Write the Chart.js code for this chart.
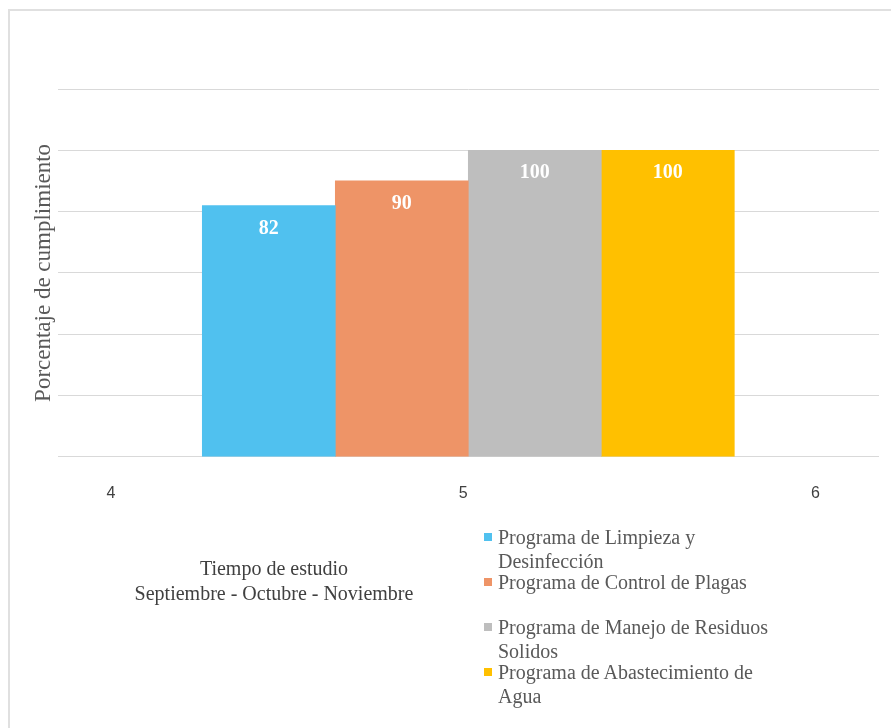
<!DOCTYPE html>
<html lang="es">
<head>
<meta charset="utf-8">
<title>Porcentaje de cumplimiento</title>
<script src="https://cdn.jsdelivr.net/npm/chart.js@4/dist/chart.umd.min.js"></script>
<style>
  html, body { margin: 0; padding: 0; background: #fff; }
  #wrap { position: relative; width: 891px; height: 728px; overflow: hidden; }
  #wrap canvas { position: absolute; left: 0; top: 0; }
  .frame { position: absolute; left: 8px; top: 9px; width: 940px; height: 800px; border: 2px solid #e0e0e0; box-sizing: border-box; }
  .x-title { position: absolute; left: 74px; top: 556px; width: 400px; text-align: center;
    font: 20px 'Liberation Serif', 'Times New Roman', serif; line-height: 25px; color: #404040; }
  #legend { position: absolute; left: 484px; top: 525px; }
  .legend-item { position: relative; height: 45px; font: 20px 'Liberation Serif', 'Times New Roman', serif;
    line-height: 24px; color: #595959; white-space: nowrap; }
  .legend-box { position: absolute; left: 0; top: 8px; width: 8px; height: 8px; }
  .legend-text { position: absolute; left: 14px; top: 0; }
</style>
</head>
<body>
<div id="wrap">
  <div class="frame"></div>
  <canvas id="chart" width="891" height="728"></canvas>
  <div class="x-title">Tiempo de estudio<br>Septiembre - Octubre - Noviembre</div>
  <div id="legend"></div>
</div>
<script>
// datos
const periodTicks = [4, 5, 6];
const studyPeriod = 5;
const programNames = [
  ['Programa de Limpieza y', 'Desinfección'],
  ['Programa de Control de Plagas'],
  ['Programa de Manejo de Residuos', 'Solidos'],
  ['Programa de Abastecimiento de', 'Agua']
];
const complianceValues = [82, 90, 100, 100];
const programColors = ['#50C1EF', '#EE9467', '#BEBEBE', '#FFC000'];
const yTicks = [0, 20, 40, 60, 80, 100, 120];

const serif = "'Liberation Serif', 'Times New Roman', serif";

// etiquetas blancas dentro de cada barra
const barValueLabels = {
  id: 'barValueLabels',
  afterDatasetsDraw(chart) {
    const { ctx } = chart;
    ctx.save();
    ctx.fillStyle = '#ffffff';
    ctx.font = `bold 20px ${serif}`;
    ctx.textAlign = 'center';
    ctx.textBaseline = 'middle';
    chart.data.datasets.forEach((ds, i) => {
      const meta = chart.getDatasetMeta(i);
      meta.data.forEach((bar, j) => {
        ctx.fillText(String(ds.data[j].y), bar.x, bar.y + 23);
      });
    });
    ctx.restore();
  }
};

// leyenda en HTML (una columna, texto en varias lineas)
const htmlLegend = {
  id: 'htmlLegend',
  afterUpdate(chart) {
    const box = document.getElementById('legend');
    if (!box) return;
    box.innerHTML = chart.data.datasets
      .map((ds) => `
      <div class="legend-item">
        <span class="legend-box" style="background:${ds.backgroundColor}"></span>
        <span class="legend-text">${ds.label.join('<br>')}</span>
      </div>`)
      .join('');
  }
};

const datasets = programNames.map((name, i) => ({
  label: name,
  data: [{ x: studyPeriod, y: complianceValues[i] }],
  backgroundColor: programColors[i],
  borderWidth: 0,
  barThickness: 133
}));

new Chart(document.getElementById('chart'), {
  type: 'bar',
  data: { datasets },
  options: {
    responsive: false,
    animation: false,
    layout: { padding: { left: 21, right: 12, top: 89, bottom: 206 } },
    plugins: {
      legend: { display: false },
      tooltip: { enabled: false }
    },
    scales: {
      x: {
        type: 'linear',
        min: 3.834,
        max: 6.166,
        offset: false,
        grid: { display: false, offset: false },
        border: { display: false },
        afterBuildTicks: (scale) => { scale.ticks = periodTicks.map((v) => ({ value: v })); },
        ticks: {
          padding: 19,
          labelOffset: -5,
          color: '#404040',
          font: { family: "'Liberation Sans', Arial, sans-serif", size: 16 }
        }
      },
      y: {
        min: 0,
        max: 120,
        afterBuildTicks: (scale) => { scale.ticks = yTicks.map((v) => ({ value: v })); },
        ticks: { display: false },
        grid: { color: '#d9d9d9', lineWidth: 1, drawTicks: false },
        border: { display: false },
        title: {
          display: true,
          text: 'Porcentaje de cumplimiento',
          color: '#595959',
          font: { family: serif, size: 23 },
          padding: { top: 9, bottom: 0 }
        }
      }
    }
  },
  plugins: [barValueLabels, htmlLegend]
});
</script>
</body>
</html>
